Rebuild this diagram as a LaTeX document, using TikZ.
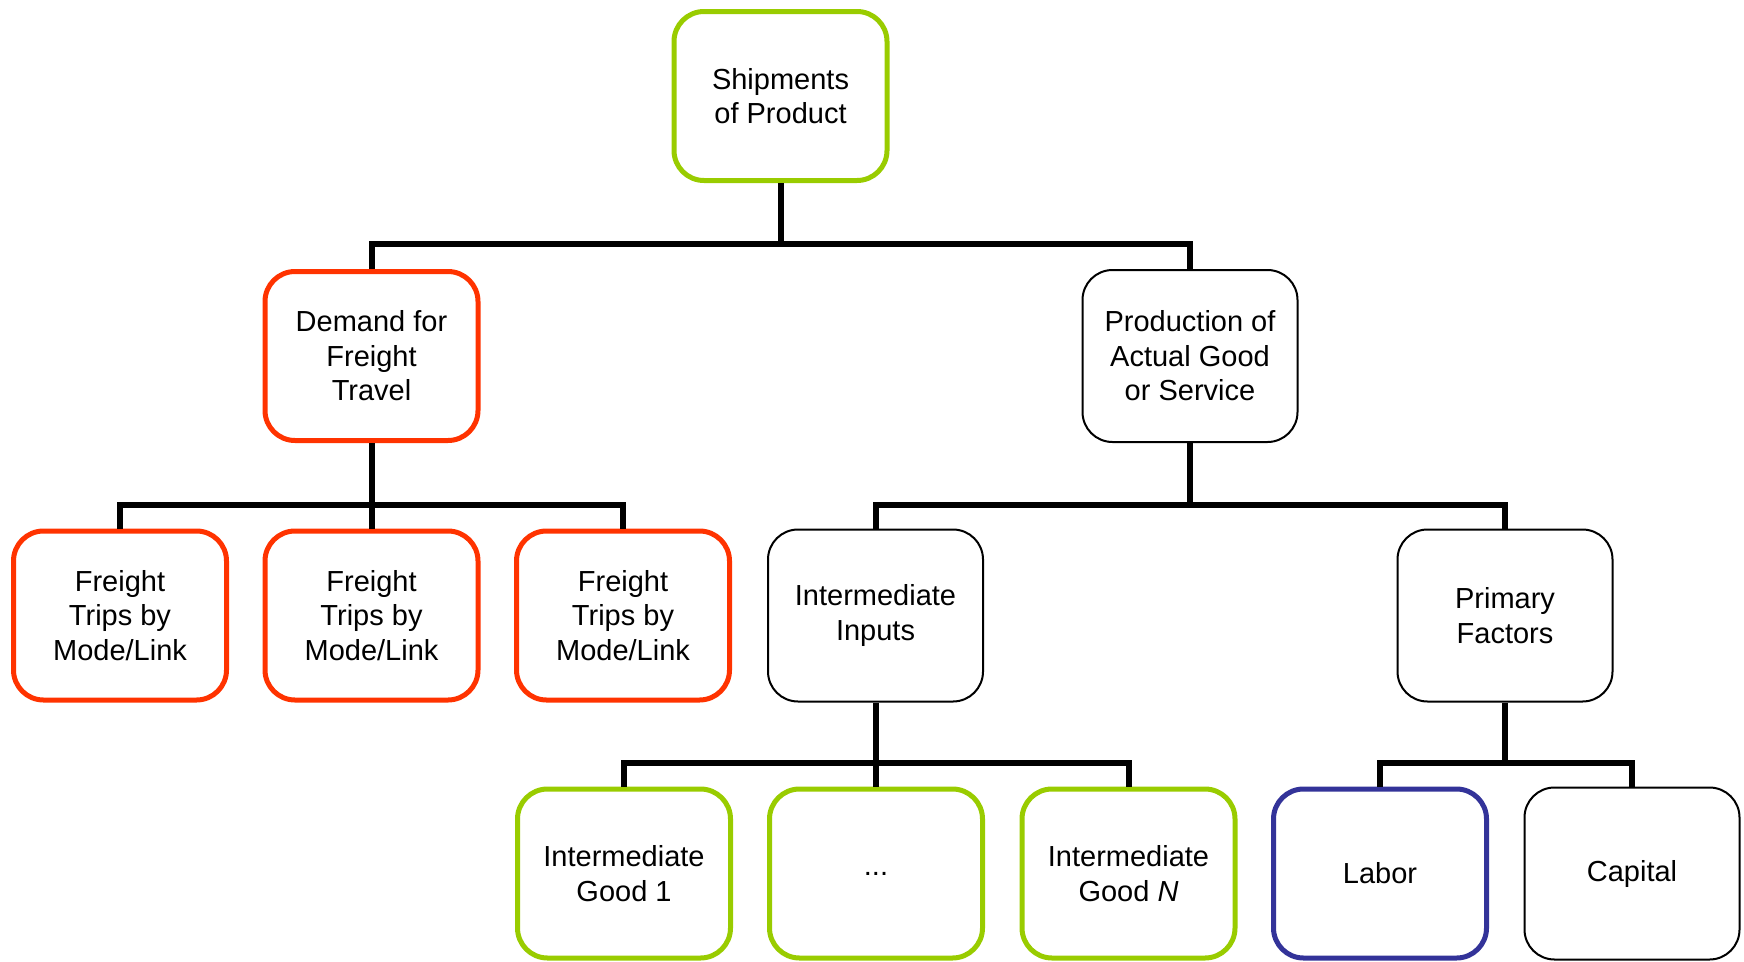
\documentclass[tikz,border=0pt]{standalone}
\usepackage{fontspec}
\setmainfont{Liberation Sans}
\definecolor{lime}{HTML}{99CC00}
\definecolor{flame}{HTML}{FF3300}
\definecolor{navy}{HTML}{333399}
\begin{document}
\begin{tikzpicture}[x=1pt,y=-1pt,
  box/.style={draw=black, line width=2pt, rounded corners=30pt, fill=white,
    minimum width=215pt, minimum height=172pt, align=center, inner sep=4pt,
    font=\fontsize{29}{34.5}\selectfont},
  greenbox/.style={box, draw=lime, line width=5pt, minimum width=213pt, minimum height=169pt},
  redbox/.style={box, draw=flame, line width=5pt, minimum width=213pt, minimum height=169pt},
  bluebox/.style={box, draw=navy, line width=5pt, minimum width=213pt, minimum height=169pt},
  link/.style={draw=black, line width=6pt, line join=miter}]
\useasboundingbox (0,0) rectangle (1744,961);

% level 0
\node[greenbox] (ship) at (780.5,96) {Shipments\\of Product};

% level 1
\node[redbox] (demand) at (371.5,356) {Demand for\\Freight\\Travel};
\node[box] (prod) at (1190,356) {Production of\\Actual Good\\or Service};

% level 2
\node[redbox] (f1) at (120,615.5) {Freight\\Trips by\\Mode/Link};
\node[redbox] (f2) at (371.5,615.5) {Freight\\Trips by\\Mode/Link};
\node[redbox] (f3) at (623,615.5) {Freight\\Trips by\\Mode/Link};
\node[box] (inter) at (875.5,615.5) {Intermediate\\Inputs};
\node[box] (prim) at (1505,615.5) {Primary\\Factors};

% level 3
\node[greenbox] (g1) at (624,873.5) {Intermediate\\Good 1};
\node[greenbox] (gd) at (876,873.5) {...};
\node[greenbox] (gn) at (1128.5,873.5) {Intermediate\\Good \textit{N}};
\node[bluebox] (labor) at (1380,873.5) {Labor};
\node[box] (cap) at (1632,873.5) {Capital};

% bus lines
\coordinate (b0) at (780.5,244);
\coordinate (b1) at (371.5,505);
\coordinate (b2) at (1190,505);
\coordinate (b3) at (875.5,763);
\coordinate (b4) at (1505,763);

\draw[link] (ship.south) -- (ship.south |- b0);
\draw[link] (demand.north) -- (demand.north |- b0) -- (prod.north |- b0) -- (prod.north);

\draw[link] (demand.south) -- (demand.south |- b1);
\draw[link] (f1.north) -- (f1.north |- b1) -- (f3.north |- b1) -- (f3.north);
\draw[link] (f2.north) -- (f2.north |- b1);

\draw[link] (prod.south) -- (prod.south |- b2);
\draw[link] (inter.north) -- (inter.north |- b2) -- (prim.north |- b2) -- (prim.north);

\draw[link] (inter.south) -- (inter.south |- b3);
\draw[link] (g1.north) -- (g1.north |- b3) -- (gn.north |- b3) -- (gn.north);
\draw[link] (gd.north) -- (gd.north |- b3);

\draw[link] (prim.south) -- (prim.south |- b4);
\draw[link] (labor.north) -- (labor.north |- b4) -- (cap.north |- b4) -- (cap.north);
\end{tikzpicture}
\end{document}
